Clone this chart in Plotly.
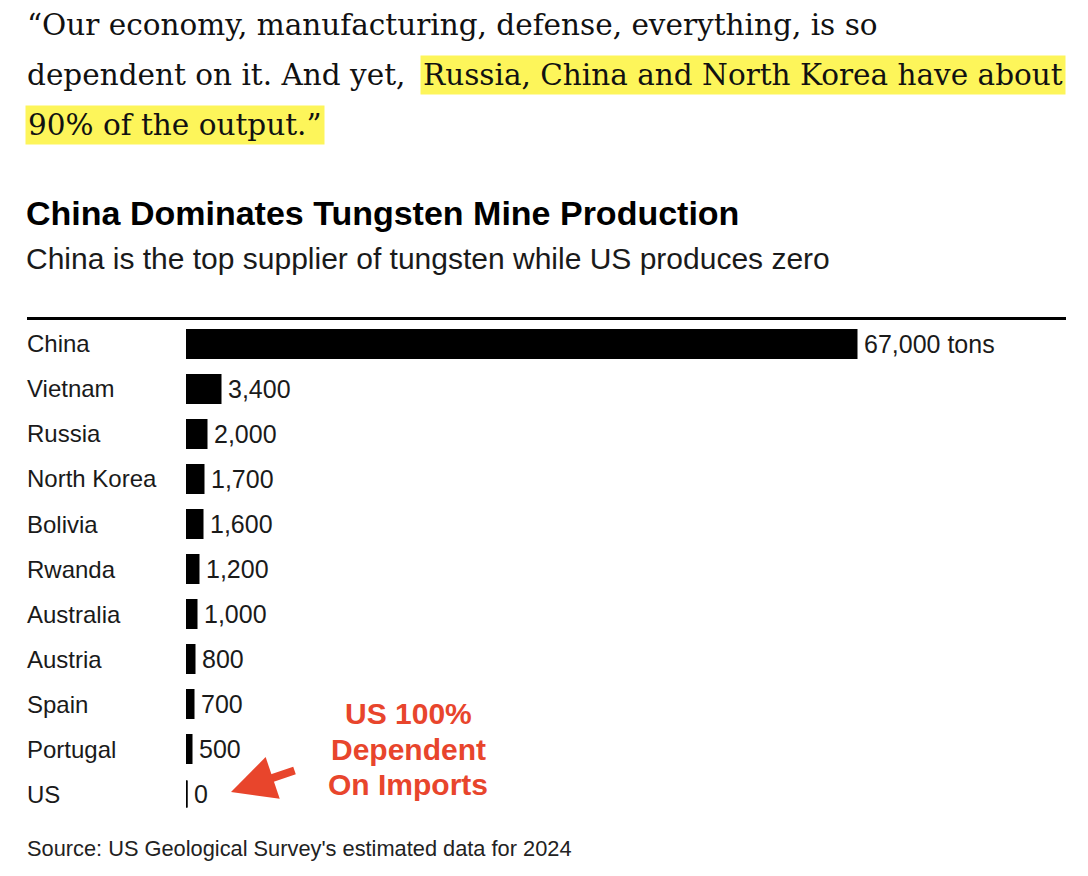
import plotly.graph_objects as go

# ---- data ----
countries = ["China", "Vietnam", "Russia", "North Korea", "Bolivia", "Rwanda",
             "Australia", "Austria", "Spain", "Portugal", "US"]
production = [67000, 3400, 2000, 1700, 1600, 1200, 1000, 800, 700, 500, 0]
unit_suffix = " tons"

W, H = 1088, 876


def px(x):
    return x / W


def py(y):
    return 1 - y / H


labels = ["\u2009" + f"{v:,}" + (unit_suffix if i == 0 else "") for i, v in enumerate(production)]

fig = go.Figure()
fig.add_trace(go.Bar(
    x=production, y=countries, orientation="h",
    marker=dict(color="#000000", line=dict(color="#000000", width=3)),
    text=labels, textposition="outside", cliponaxis=False, constraintext="none",
    textfont=dict(family="Liberation Sans, Arial, sans-serif", size=25, color="#1a1a1a"),
    hoverinfo="skip",
))

# thin stub for zero-valued bars
for idx, v in enumerate(production):
    if v == 0:
        fig.add_shape(type="line", xref="x", yref="y", x0=v, x1=v,
                      y0=idx - 0.3, y1=idx + 0.3, line=dict(color="#000", width=3))

annotations = []
# country labels
for c in countries:
    annotations.append(dict(text=c, xref="paper", yref="y", x=px(25), y=c,
                            xanchor="left", yanchor="middle", showarrow=False,
                            font=dict(family="Liberation Sans, Arial, sans-serif", size=24, color="#1a1a1a")))

serif = "DejaVu Serif, Liberation Serif, serif"
qsize = 29.5
hl = "#FDF55A"
annotations += [
    dict(text="“Our economy, manufacturing, defense, everything, is so", x=px(25), y=py(25),
         xanchor="left", yanchor="middle", font=dict(family=serif, size=qsize, color="#111")),
    dict(text="dependent on it. And yet, ", x=px(25), y=py(75),
         xanchor="left", yanchor="middle", font=dict(family=serif, size=qsize, color="#111")),
    dict(text="Russia, China and North Korea have about", x=px(1066), y=py(75),
         xanchor="right", yanchor="middle", bgcolor=hl, borderpad=2,
         font=dict(family=serif, size=qsize, color="#111")),
    dict(text="90% of the output.”", x=px(25), y=py(125),
         xanchor="left", yanchor="middle", bgcolor=hl, borderpad=2,
         font=dict(family=serif, size=qsize, color="#111")),
    dict(text="<b>China Dominates Tungsten Mine Production</b>", x=px(24), y=py(213),
         xanchor="left", yanchor="middle",
         font=dict(family="Liberation Sans, Arial, sans-serif", size=34, color="#000")),
    dict(text="China is the top supplier of tungsten while US produces zero", x=px(24), y=py(258),
         xanchor="left", yanchor="middle",
         font=dict(family="Liberation Sans, Arial, sans-serif", size=30, color="#1a1a1a")),
    dict(text="Source: US Geological Survey's estimated data for 2024", x=px(25), y=py(848),
         xanchor="left", yanchor="middle",
         font=dict(family="Liberation Sans, Arial, sans-serif", size=21.8, color="#222")),
]
red = "#E8452C"
for t, yy in [("US 100%", 713), ("Dependent", 749), ("On Imports", 784)]:
    annotations.append(dict(text=f"<b>{t}</b>", x=px(408), y=py(yy), xanchor="center", yanchor="middle",
                            font=dict(family="Liberation Sans, Arial, sans-serif", size=30, color=red)))
annotations.append(dict(text="", x=px(231), y=py(792), ax=65, ay=-22, showarrow=True,
                        arrowhead=2, arrowwidth=8, arrowsize=1.1, arrowcolor=red, standoff=0))
for a in annotations:
    a.setdefault("xref", "paper")
    a.setdefault("yref", "paper")
    a.setdefault("showarrow", False)

fig.add_shape(type="line", xref="paper", yref="paper", x0=px(27), x1=px(1066),
              y0=py(318.5), y1=py(318.5), line=dict(color="#000", width=3))

fig.update_layout(
    width=W, height=H, margin=dict(l=0, r=0, t=0, b=0),
    paper_bgcolor="white", plot_bgcolor="white",
    showlegend=False, bargap=0.4,
    xaxis=dict(domain=[px(186), px(1066)], range=[0, 88000], visible=False, fixedrange=True),
    yaxis=dict(domain=[py(816.5), py(321.5)], range=[10.5, -0.5], visible=False,
               type="category", categoryorder="array", categoryarray=countries, fixedrange=True),
    annotations=annotations,
)

fig.write_html("out.html", config={"displayModeBar": False},
               post_script="document.body.style.margin='0';")
